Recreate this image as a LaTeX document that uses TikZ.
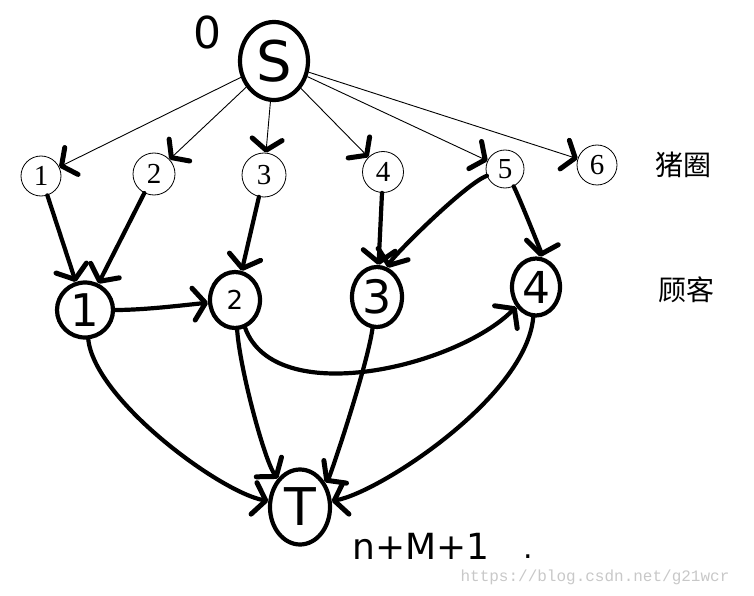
\documentclass[tikz,border=0pt]{standalone}
\usepackage{fontspec}
\setmainfont{Liberation Serif}
\newfontfamily\handfont{DejaVu Sans}
\newfontfamily\cjkfont{Noto Sans CJK SC}
\newfontfamily\wmfont{Liberation Mono}
\usetikzlibrary{arrows.meta,shapes.geometric}
\definecolor{wmgray}{RGB}{200,200,200}
\begin{document}
\begin{tikzpicture}[x=1pt,y=-1pt,
  pig/.style={circle,draw,line width=0.8pt,inner sep=0pt,font=\fontsize{29}{30}\selectfont},
  hand/.style={ellipse,draw,line width=4.2pt,inner sep=0pt},
  sarrow/.style={line width=0.9pt,-{Straight Barb[line width=5pt 0,length=11pt,width=30pt,round]}},
  harrow/.style={line width=4.2pt,line cap=round,-{Straight Barb[line width=5pt 0,length=12pt,width=32pt,round]}},
  cjk/.style={font=\cjkfont\fontsize{28}{30}\selectfont},
]
\useasboundingbox (0,0) rectangle (754,596);
% source
\node[hand,minimum width=68pt,minimum height=78pt,font=\handfont\fontsize{56}{58}\selectfont] (S) at (274,61) {S};
\node[font=\handfont\fontsize{44}{46}\selectfont] (zero) at (207,32) {0};
% pig pens
\node[pig,minimum size=40pt] (p1) at (41,176) {1};
\node[pig,minimum size=42pt] (p2) at (154,174) {2};
\node[pig,minimum size=44pt] (p3) at (264,175) {3};
\node[pig,minimum size=41pt] (p4) at (383,172) {4};
\node[pig,minimum size=38pt] (p5) at (505,169) {5};
\node[pig,minimum size=40pt] (p6) at (597,165) {6};
\node[cjk] (lpig) at (683,165) {猪圈};
% customers
\node[hand,minimum width=56pt,minimum height=55pt,font=\handfont\fontsize{45}{46}\selectfont] (c1) at (85,310) {1};
\node[hand,minimum width=50pt,minimum height=56pt,font=\handfont\fontsize{26}{28}\selectfont] (c2) at (235,300) {2};
\node[hand,minimum width=50pt,minimum height=60pt,font=\handfont\fontsize{46}{48}\selectfont] (c3) at (377,297) {3};
\node[hand,minimum width=48pt,minimum height=57pt,font=\handfont\fontsize{44}{46}\selectfont] (c4) at (536,287) {4};
\node[cjk] (lcus) at (686,290) {顾客};
% sink
\node[hand,minimum width=60pt,minimum height=75pt,font=\handfont\fontsize{52}{54}\selectfont] (T) at (300,507) {T};
\node[font=\handfont\fontsize{36}{38}\selectfont] (nm) at (421,546) {n+M+1};
\node[font=\handfont\fontsize{30}{30}\selectfont] (dot) at (528,557) {.};
\node[font=\wmfont\fontsize{16}{18}\selectfont,text=wmgray] (wm) at (595,577) {https://blog.csdn.net/g21wcr};
% source edges
\foreach \p in {p1,p2,p3,p4,p5,p6} \draw[sarrow] (S) -- (\p);
% pig -> customer
\draw[harrow] (p1) -- (c1);
\draw[harrow] (p2) -- (c1);
\draw[harrow] (p3) -- (c2);
\draw[harrow] (p4) -- (c3);
\draw[harrow] (p5) .. controls +(-40,15) and +(15,-40) .. (c3);
\draw[harrow] (p5) .. controls +(15,30) and +(5,-35) .. (c4);
% customer -> customer
\draw[harrow] (c1) .. controls +(60,0) and +(-50,5) .. (c2);
\draw[harrow] (c2) .. controls +(40,110) and +(-80,80) .. (c4);
% customer -> sink
\draw[harrow] (c1) .. controls +(10,90) and +(-80,-15) .. (T);
\draw[harrow] (c2) .. controls +(5,70) and +(-35,-45) .. (T);
\draw[harrow] (c3) .. controls +(-10,70) and +(30,-30) .. (T);
\draw[harrow] (c4) .. controls +(-10,110) and +(80,-15) .. (T);
\end{tikzpicture}
\end{document}
